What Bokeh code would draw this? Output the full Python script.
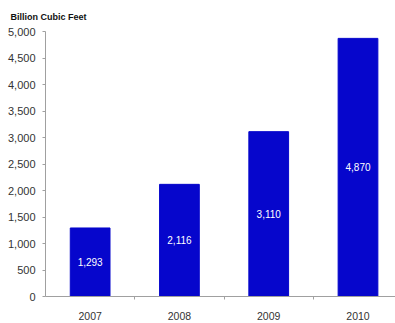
from bokeh.plotting import figure
from bokeh.models import Range1d, FixedTicker, ColumnDataSource, Title
from bokeh.core.properties import value
from bokeh.embed import file_html
from bokeh.resources import INLINE

years = ["2007", "2008", "2009", "2010"]
volumes = [1293, 2116, 3110, 4870]
value_labels = ["1,293", "2,116", "3,110", "4,870"]
y_ticks = [0, 500, 1000, 1500, 2000, 2500, 3000, 3500, 4000, 4500, 5000]

xs = [i + 0.5 for i in range(len(years))]
src = ColumnDataSource(dict(x=xs, top=volumes, mid=[v / 2 for v in volumes], lab=value_labels))

p = figure(width=395, height=323, output_backend="svg", toolbar_location=None,
           x_range=Range1d(0, 3.92), y_range=Range1d(0, 5000))
p.min_border_left = 45
p.min_border_right = 0
p.min_border_top = 31
p.min_border_bottom = 27
p.outline_line_color = None
p.grid.visible = False
p.background_fill_color = "white"
p.border_fill_color = "white"

p.vbar(x="x", top="top", width=0.445, bottom=0, source=src, fill_color="#0606CC", line_color="#0606CC")
p.text(x="x", y="mid", text="lab", source=src, text_color="white", text_align="center",
       text_baseline="middle", text_font=value("Liberation Sans"), text_font_size="10px")

font = "Liberation Sans"
ax = p.xaxis[0]
ax.ticker = FixedTicker(ticks=xs, minor_ticks=[1, 2, 3])
ax.major_label_overrides = {x: y for x, y in zip(xs, years)}
ax.major_tick_out = 0
ax.major_tick_in = 0
ax.minor_tick_out = 3
ax.minor_tick_in = 0
ax.axis_line_color = "#A0A0A0"
ax.minor_tick_line_color = "#A0A0A0"
ax.major_label_text_font = font
ax.major_label_text_font_size = "10.5px"
ax.major_label_text_color = "#333333"
ax.major_label_standoff = 12

ay = p.yaxis[0]
ay.ticker = FixedTicker(ticks=y_ticks)
ay.major_label_overrides = {t: f"{t:,}" for t in y_ticks}
ay.major_tick_out = 3
ay.major_tick_in = 0
ay.minor_tick_line_color = None
ay.axis_line_color = "#A0A0A0"
ay.major_tick_line_color = "#A0A0A0"
ay.major_label_text_font = font
ay.major_label_text_font_size = "11px"
ay.major_label_text_color = "#333333"
ay.major_label_standoff = 7

p.title = Title(text="Billion Cubic Feet", text_font=font, text_font_size="9px",
                text_font_style="bold", text_color="#111111", offset=-35,
                vertical_align="middle")
p.title.standoff = 18

open("out.html", "w").write(file_html(p, INLINE))
